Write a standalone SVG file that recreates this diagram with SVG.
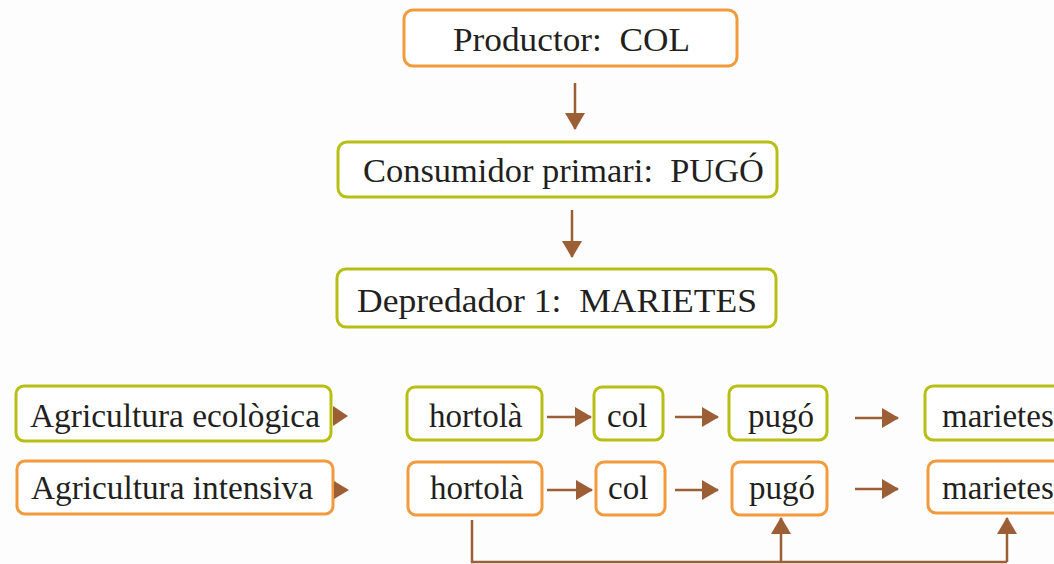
<svg xmlns="http://www.w3.org/2000/svg" width="1054" height="564" viewBox="0 0 1054 564">
<defs>
<marker id="ah" markerUnits="userSpaceOnUse" markerWidth="17" markerHeight="20" refX="16" refY="10" orient="auto"><path d="M0,0 L17,10 L0,20 z" fill="#9c5e35"/></marker>
<style>
.box{fill:#fff;stroke-width:3}
.g{stroke:#b8bf14}
.o{stroke:#f29a3c}
.t{font-family:"Liberation Serif","Times New Roman",serif;font-size:33px;fill:#231f20;white-space:pre}
.c{stroke:#9c5e35;stroke-width:2.5;fill:none}
</style>
</defs>
<rect width="1054" height="564" fill="#fdfdfd"/>
<g id="productor"><rect class="box o" x="404" y="10" width="333" height="56" rx="9"/><text class="t" x="453" y="51" xml:space="preserve" textLength="237" lengthAdjust="spacingAndGlyphs">Productor:  COL</text></g>
<g id="consumidor"><rect class="box g" x="338" y="142" width="439" height="55" rx="9"/><text class="t" x="363" y="182" xml:space="preserve" textLength="401" lengthAdjust="spacingAndGlyphs">Consumidor primari:  PUGÓ</text></g>
<g id="depredador"><rect class="box g" x="337" y="269" width="439" height="58" rx="9"/><text class="t" x="357" y="312" xml:space="preserve" textLength="400" lengthAdjust="spacingAndGlyphs">Depredador 1:  MARIETES</text></g>
<g id="agri-eco"><rect class="box g" x="16" y="386" width="315" height="55" rx="8"/><text class="t" x="30" y="427" textLength="290" lengthAdjust="spacingAndGlyphs">Agricultura ecològica</text></g>
<g id="agri-int"><rect class="box o" x="17" y="461" width="316" height="53" rx="8"/><text class="t" x="31" y="499" textLength="282" lengthAdjust="spacingAndGlyphs">Agricultura intensiva</text></g>
<g id="hortola-eco"><rect class="box g" x="407" y="387" width="135" height="53" rx="8"/><text class="t" x="429" y="427">hortolà</text></g>
<g id="col-eco"><rect class="box g" x="594" y="387" width="69" height="53" rx="8"/><text class="t" x="607" y="427">col</text></g>
<g id="pugo-eco"><rect class="box g" x="729" y="386" width="98" height="54" rx="8"/><text class="t" x="748" y="427">pugó</text></g>
<g id="marietes-eco"><rect class="box g" x="925" y="386" width="140" height="54" rx="8"/><text class="t" x="942" y="427">marietes</text></g>
<g id="hortola-int"><rect class="box o" x="408" y="462" width="134" height="53" rx="8"/><text class="t" x="430" y="499">hortolà</text></g>
<g id="col-int"><rect class="box o" x="596" y="462" width="69" height="53" rx="8"/><text class="t" x="608" y="499">col</text></g>
<g id="pugo-int"><rect class="box o" x="732" y="462" width="95" height="53" rx="8"/><text class="t" x="749" y="499">pugó</text></g>
<g id="marietes-int"><rect class="box o" x="928" y="461" width="140" height="52" rx="8"/><text class="t" x="942" y="499">marietes</text></g>
<g id="connectors">
<line class="c" x1="575" y1="83" x2="575" y2="129" marker-end="url(#ah)"/>
<line class="c" x1="572" y1="210" x2="572" y2="257" marker-end="url(#ah)"/>
<polygon points="333,406 348,416 333,426" fill="#9c5e35"/>
<polygon points="334,481 349,490 334,499" fill="#9c5e35"/>
<line class="c" x1="547" y1="417" x2="591" y2="417" marker-end="url(#ah)"/>
<line class="c" x1="675" y1="417" x2="718" y2="417" marker-end="url(#ah)"/>
<line class="c" x1="855" y1="418" x2="898" y2="418" marker-end="url(#ah)"/>
<line class="c" x1="547" y1="490" x2="592" y2="490" marker-end="url(#ah)"/>
<line class="c" x1="675" y1="490" x2="718" y2="490" marker-end="url(#ah)"/>
<line class="c" x1="855" y1="489" x2="898" y2="489" marker-end="url(#ah)"/>
<path class="c" d="M472,520 V562 H1007" stroke-width="3"/>
<line class="c" x1="781" y1="562" x2="781" y2="518" marker-end="url(#ah)"/>
<line class="c" x1="1007" y1="562" x2="1007" y2="518" marker-end="url(#ah)"/>
</g>
</svg>
